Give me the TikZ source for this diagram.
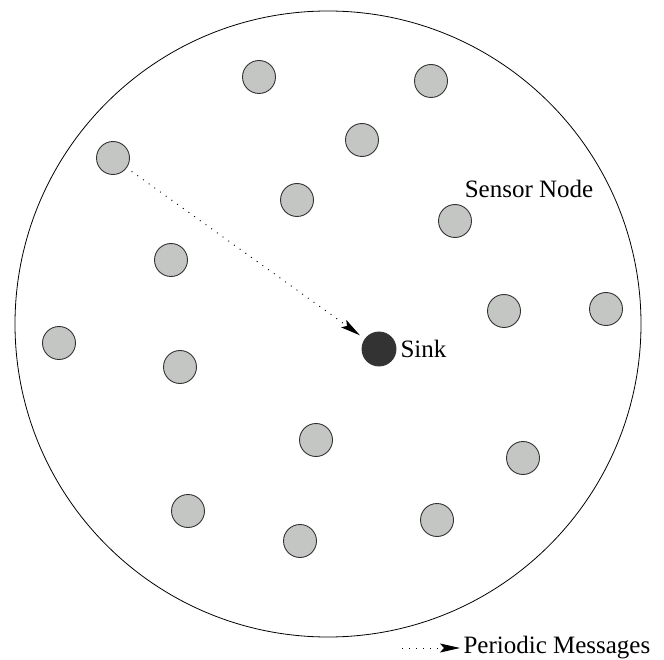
\documentclass[tikz,border=0pt]{standalone}
\usepackage{fontspec}
\setmainfont{Liberation Serif}
\usetikzlibrary{arrows.meta}
\definecolor{sensorgray}{RGB}{196,198,196}
\definecolor{sinkgray}{RGB}{51,51,51}
\begin{document}
\begin{tikzpicture}[x=1pt, y=-1pt,
  every node/.style={font=\fontsize{25}{30}\selectfont},
  sensor/.style={circle, draw=black!80, fill=sensorgray, line width=0.9pt, minimum size=33pt, inner sep=0pt},
  sinknode/.style={circle, draw=black!80, fill=sinkgray, line width=0.9pt, minimum size=34pt, inner sep=0pt},
  msg/.style={line width=0.9pt, dash pattern=on 1pt off 6pt, -{Stealth[length=20pt, width=9pt, inset=4pt]}}]
\useasboundingbox (0,0) rectangle (664,660);

% sensor field
\draw[line width=0.8pt] (328,324) circle [radius=313pt];

\node[sensor] (s1) at (259,77) {};
\node[sensor] (s2) at (431,81) {};
\node[sensor] (s3) at (362,140) {};
\node[sensor] (s4) at (113,158) {};
\node[sensor] (s5) at (297,200) {};
\node[sensor] (s6) at (455,221) {};
\node[sensor] (s7) at (171,260) {};
\node[sensor] (s8) at (504,311) {};
\node[sensor] (s9) at (606,309) {};
\node[sensor] (s10) at (59,343) {};
\node[sensor] (s11) at (180,367) {};
\node[sensor] (s12) at (316,440) {};
\node[sensor] (s13) at (523,458) {};
\node[sensor] (s14) at (188,511) {};
\node[sensor] (s15) at (300,541) {};
\node[sensor] (s16) at (437,520) {};

\node[sinknode] (sink) at (379,349) {};

\node (sensorlabel) at (529,189) {Sensor Node};
\node[anchor=west] (sinklabel) at (397,349) {Sink};

\draw[msg, shorten <=6pt, shorten >=6pt] (s4) -- (sink);

% legend
\coordinate (legstart) at (402,648);
\node[anchor=west] (legend) at (460,648) {Periodic Messages};
\draw[msg] (legstart) -- (legend.west);
\end{tikzpicture}
\end{document}
